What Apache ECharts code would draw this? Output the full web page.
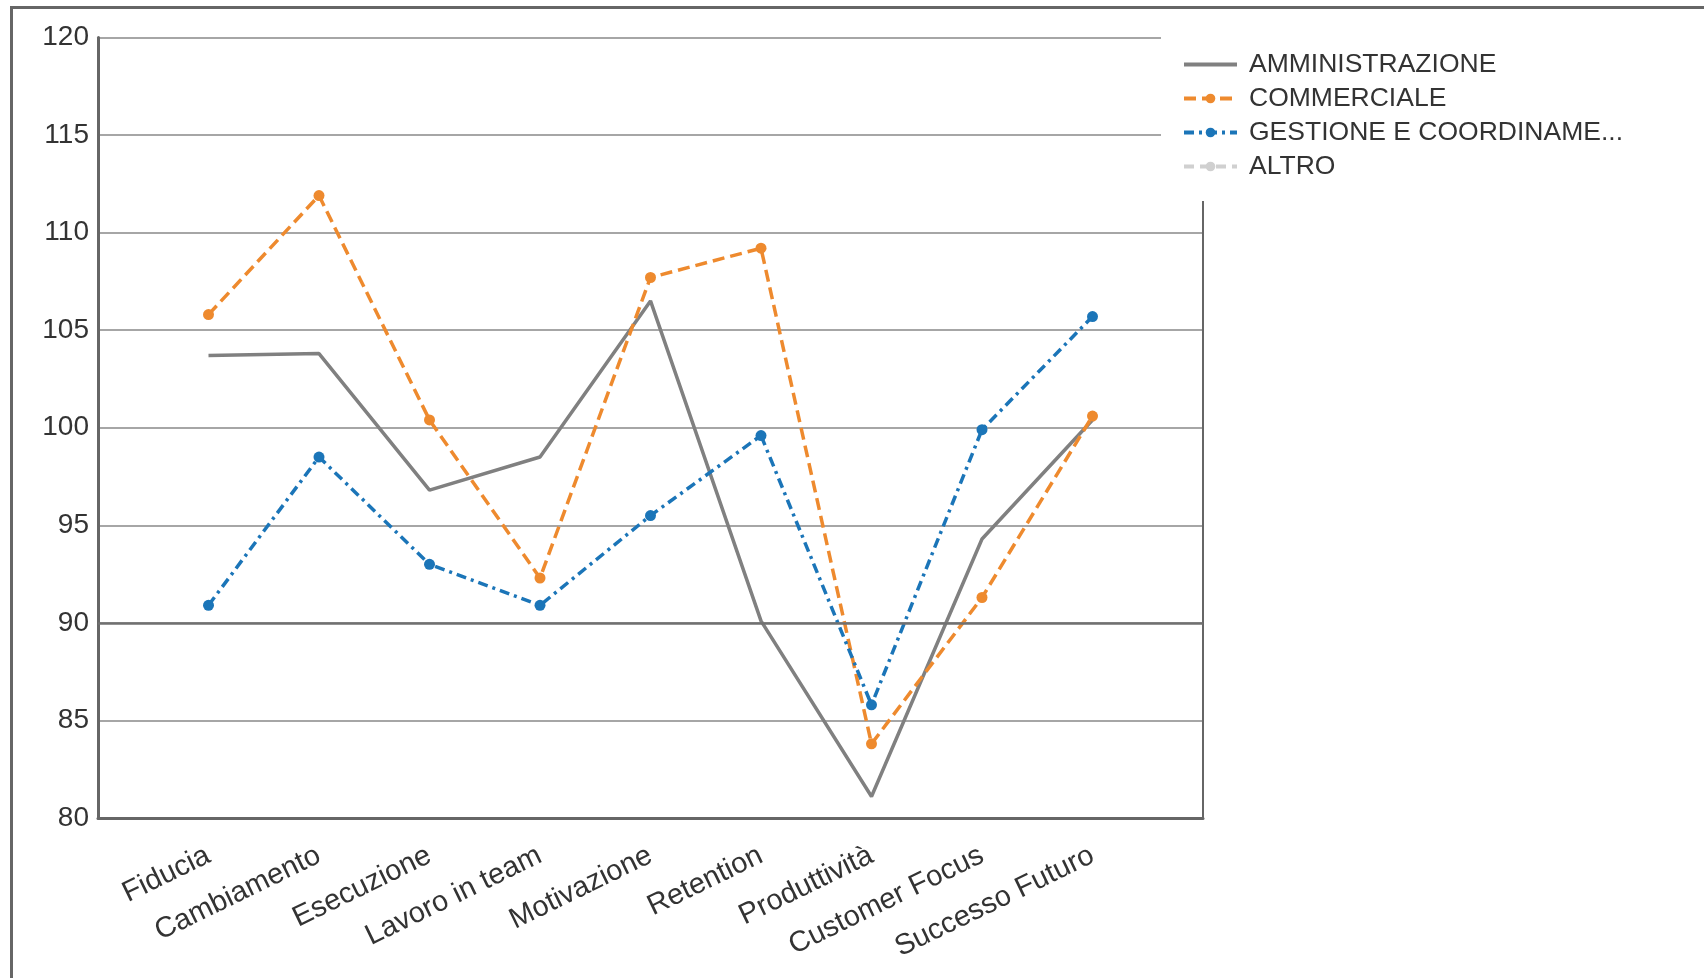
<!DOCTYPE html>
<html>
<head>
<meta charset="utf-8">
<script src="https://cdn.jsdelivr.net/npm/echarts@6/dist/echarts.min.js"></script>
<style>
  html, body { margin: 0; padding: 0; background: #fff; }
  #chart { width: 1704px; height: 978px; }
</style>
</head>
<body>
<div id="chart"></div>
<script>
const categories = ['Fiducia', 'Cambiamento', 'Esecuzione', 'Lavoro in team', 'Motivazione', 'Retention', 'Produttività', 'Customer Focus', 'Successo Futuro'];
const seriesNames = ['AMMINISTRAZIONE', 'COMMERCIALE', 'GESTIONE E COORDINAMENTO', 'ALTRO'];
const legendLabels = ['AMMINISTRAZIONE', 'COMMERCIALE', 'GESTIONE E COORDINAME...', 'ALTRO'];
const amministrazione = [103.7, 103.8, 96.8, 98.5, 106.5, 90.1, 81.1, 94.3, 100.4];
const commerciale = [105.8, 111.9, 100.4, 92.3, 107.7, 109.2, 83.8, 91.3, 100.6];
const gestione = [90.9, 98.5, 93.0, 90.9, 95.5, 99.6, 85.8, 99.9, 105.7];
const altro = [null, null, null, null, null, null, null, null, null];
const yTicks = { min: 80, max: 120, interval: 5 };

const FONT = 'Liberation Sans';
const pad = arr => [null, ...arr, null];
const axisData = ['', ...categories, ''];

const chart = echarts.init(document.getElementById('chart'), null, { renderer: 'canvas' });
chart.setOption({
  animation: false,
  backgroundColor: '#fff',
  textStyle: { fontFamily: FONT },
  graphic: [{
    type: 'rect', z: 0, silent: true,
    shape: { x: 11.5, y: 7.5, width: 3000, height: 3000 },
    style: { fill: 'none', stroke: '#666', lineWidth: 3 }
  }],
  grid: { left: 98, right: 501, top: 37.5, bottom: 160, containLabel: false },
  legend: {
    orient: 'vertical',
    left: 1161, top: 30,
    padding: [21, 60, 21, 21],
    backgroundColor: '#fff',
    itemWidth: 53, itemHeight: 12, itemGap: 7,
    z: 10,
    lineStyle: { width: 4 },
    data: [
      { name: seriesNames[0], itemStyle: { opacity: 0 } },
      { name: seriesNames[1] },
      { name: seriesNames[2] },
      { name: seriesNames[3] }
    ],
    formatter: name => legendLabels[seriesNames.indexOf(name)],
    textStyle: { fontFamily: FONT, fontSize: 26.5, color: '#333', padding: [0, 0, 0, 7] }
  },
  xAxis: {
    type: 'category',
    boundaryGap: false,
    data: axisData,
    axisLine: { show: true, lineStyle: { color: '#666', width: 3 } },
    axisTick: { show: false },
    splitLine: { show: false },
    axisLabel: { rotate: 26, margin: 36, fontFamily: FONT, fontSize: 29, color: '#333', interval: 0 }
  },
  yAxis: [{
    type: 'value', min: yTicks.min, max: yTicks.max, interval: yTicks.interval,
    axisLine: { show: true, lineStyle: { color: '#666', width: 3 } },
    axisTick: { show: false },
    axisLabel: { margin: 9, fontFamily: FONT, fontSize: 28, color: '#333' },
    splitLine: { show: true, lineStyle: { color: '#888', width: 1.5 } }
  }, {
    type: 'value', position: 'right', min: yTicks.min, max: yTicks.max, interval: yTicks.interval,
    axisLine: { show: true, lineStyle: { color: '#666', width: 2 } },
    axisTick: { show: false }, axisLabel: { show: false }, splitLine: { show: false }
  }],
  series: [{
    name: seriesNames[0], type: 'line', data: pad(amministrazione),
    symbol: 'none', connectNulls: false,
    lineStyle: { color: '#808080', width: 3.5, type: 'solid' },
    itemStyle: { color: '#808080' },
    markLine: {
      silent: true, symbol: 'none', label: { show: false },
      lineStyle: { color: '#707070', width: 2.5, type: 'solid' },
      data: [{ yAxis: 90 }]
    }
  }, {
    name: seriesNames[1], type: 'line', data: pad(commerciale),
    symbol: 'circle', symbolSize: 11,
    lineStyle: { color: '#EE8A2E', width: 3.5, type: [12, 6] },
    itemStyle: { color: '#EE8A2E' }
  }, {
    name: seriesNames[2], type: 'line', data: pad(gestione),
    symbol: 'circle', symbolSize: 11,
    lineStyle: { color: '#1B75B8', width: 3.5, type: [10, 5, 3, 5] },
    itemStyle: { color: '#1B75B8' }
  }, {
    name: seriesNames[3], type: 'line', data: pad(altro),
    symbol: 'circle', symbolSize: 7,
    lineStyle: { color: '#D0D0D0', width: 3.5, type: [10, 6] },
    itemStyle: { color: '#D0D0D0' }
  }]
});
</script>
</body>
</html>
